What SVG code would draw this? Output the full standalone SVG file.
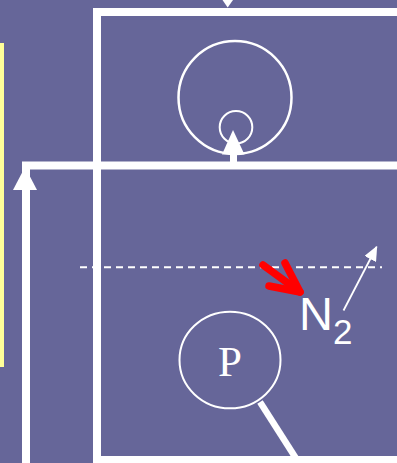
<svg xmlns="http://www.w3.org/2000/svg" width="397" height="463" viewBox="0 0 397 463">
<defs>
<style>
.w{stroke:#fff;fill:none}
.thick{stroke:#fff;stroke-width:8;fill:none}
.wf{fill:#fff;stroke:none}
</style>
<marker id="ah" viewBox="0 0 10 10" refX="9" refY="5" markerWidth="15" markerHeight="13" markerUnits="userSpaceOnUse" orient="auto" preserveAspectRatio="none"><path d="M0,0 L10,5 L0,10 z" fill="#fff"/></marker>
</defs>
<rect width="397" height="463" fill="#666699"/>
<rect id="yellow-bar" x="0" y="43" width="4" height="324" fill="#ffff99"/>
<g id="frame">
<path class="thick" d="M97,463 V12 H397"/>
<path class="thick" d="M97,460 H397"/>
</g>
<g id="big-circle"><circle class="w" cx="235" cy="97.5" r="56.5" stroke-width="2.5"/></g>
<g id="small-circle"><circle class="w" cx="236" cy="127.3" r="16.3" stroke-width="2"/></g>
<g id="P-circle">
<ellipse class="w" cx="230" cy="360" rx="50.5" ry="48.3" stroke-width="2"/>
<text x="230" y="376" font-family="Liberation Serif, serif" font-size="43" fill="#fff" text-anchor="middle">P</text>
</g>
<g id="N2-label">
<text x="299" y="330" font-family="Liberation Sans, sans-serif" font-size="47" fill="#fff">N<tspan font-size="35" dy="14">2</tspan></text>
</g>
<g id="connectors">
<path class="thick" d="M26,463 V165.5 H397"/>
<polygon class="wf" points="13,190 37,190 25,167"/>
<polygon class="wf" points="222.5,0 233,0 227.7,7.5"/>
<line class="w" x1="233.5" y1="162" x2="233.5" y2="150" stroke-width="7"/>
<polygon class="wf" points="222,154.5 244.5,154.5 233,130"/>
<line x1="80" y1="267.3" x2="382" y2="267.3" stroke="#fff" stroke-width="2" stroke-dasharray="7,5"/>
<g stroke="#ff0000" stroke-width="7.5" stroke-linecap="round" stroke-linejoin="round" fill="none">
<line x1="263" y1="265" x2="300" y2="292"/>
<polyline points="285,263 300,292 269,286"/>
</g>
<line x1="343.5" y1="310.5" x2="376.5" y2="247" stroke="#fff" stroke-width="1.8" marker-end="url(#ah)"/>
<line class="w" x1="260" y1="402" x2="297" y2="460" stroke-width="6.5"/>
</g>
</svg>
